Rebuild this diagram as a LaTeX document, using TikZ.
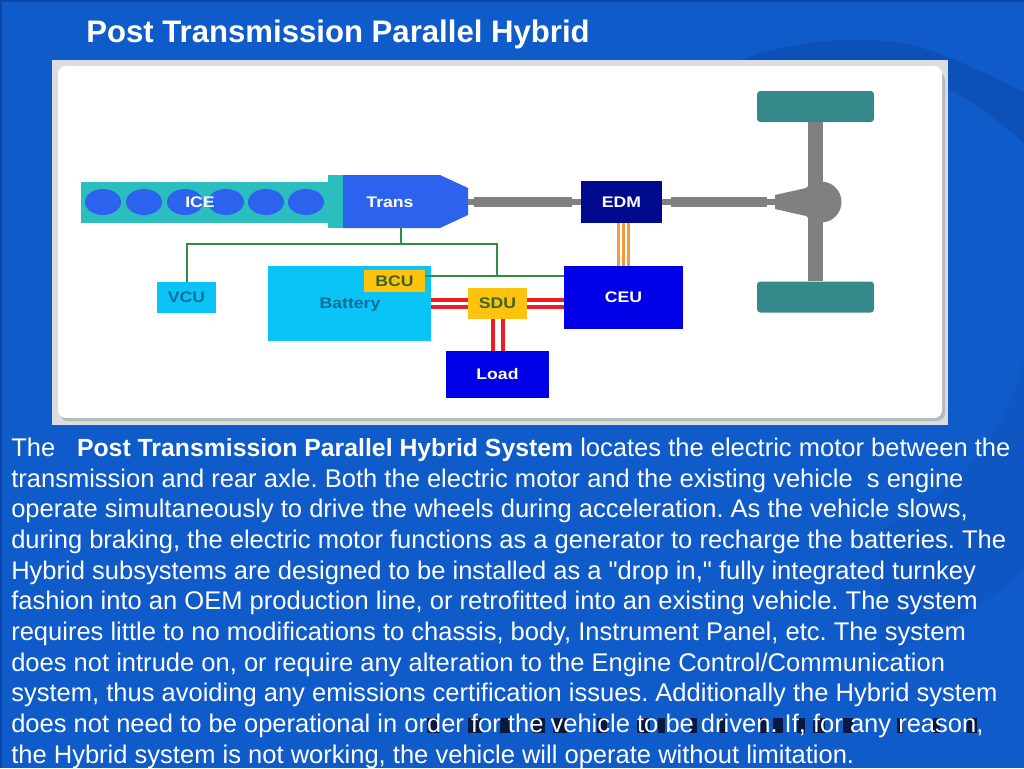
\documentclass[tikz,border=0pt]{standalone}
\usepackage{fontspec}
\newfontfamily\bodyfont{Liberation Sans}
\setmainfont{Liberation Sans}
\newfontfamily\lblfont[FakeStretch=1.15]{Liberation Sans}
\definecolor{bgblue}{HTML}{0F5BC9}
\definecolor{arcblue}{HTML}{0D51B8}
\definecolor{arcfaint}{HTML}{0E56C1}
\definecolor{edgeblue}{HTML}{0B47A8}
\definecolor{panelgrey}{HTML}{DADEE2}
\definecolor{shadowgrey}{HTML}{B2BAC0}
\definecolor{icecol}{HTML}{2CBDBE}
\definecolor{cylcol}{HTML}{2B62EE}
\definecolor{cyancol}{HTML}{0AC4F5}
\definecolor{yelcol}{HTML}{FFC30F}
\definecolor{ceucol}{HTML}{0000E6}
\definecolor{edmcol}{HTML}{000A8C}
\definecolor{shaftcol}{HTML}{808080}
\definecolor{wheelcol}{HTML}{36898A}
\definecolor{buscol}{HTML}{2F8F3F}
\definecolor{redcol}{HTML}{EE1C25}
\definecolor{orgcol}{HTML}{F39A3C}
\definecolor{tealtxt}{HTML}{0A6F9C}
\definecolor{olivetxt}{HTML}{3A6428}
\definecolor{inkdark}{HTML}{07193F}
\tikzset{
  x=0.75pt,y=-0.75pt,
  boxn/.style={draw=none,inner sep=0pt,font=\lblfont\bfseries\fontsize{11.5}{12}\selectfont},
  wtxt/.style={text=white},
  ttxt/.style={text=tealtxt},
  otxt/.style={text=olivetxt},
  cyl/.style={fill=cylcol,draw=none},
  bodytxt/.style={anchor=base west,inner sep=0pt,text=white,font=\bodyfont\frenchspacing\fontsize{19.15}{21}\selectfont},
  bus/.style={draw=buscol,line width=1.8pt},
  busthin/.style={draw=buscol,line width=1.2pt},
  shaftthin/.style={draw=shaftcol,line width=4.5pt},
  shaftthick/.style={draw=shaftcol,line width=7.5pt},
  redline/.style={draw=redcol,line width=2.6pt},
  orgline/.style={draw=orgcol,line width=2.4pt},
  inkbit/.style={fill=inkdark,draw=none},
}
\begin{document}
\begin{tikzpicture}
\useasboundingbox (0,0) rectangle (1024,768);
% background
\fill[bgblue] (0,0) rectangle (1024,768);
\fill[edgeblue] (0,0) rectangle (1024,1.5);
\fill[edgeblue] (0,0) rectangle (1.5,768);
\fill[arcblue] (740,60) .. controls (800,38) and (890,30) .. (947,57)
  .. controls (975,68) and (1000,80) .. (1024,93) -- (1024,143)
  .. controls (1000,122) and (975,103) .. (947,88) -- (947,60) -- cycle;
\fill[arcfaint] (1024,360) .. controls (1010,420) and (970,490) .. (880,530)
  -- (880,655) .. controls (950,630) and (1000,595) .. (1024,567) -- cycle;
% panel
\fill[panelgrey] (52,60) rectangle (948,425);
\fill[shadowgrey,rounded corners=6pt] (60,72) rectangle (945,421);
\fill[white,rounded corners=6pt] (58,66) rectangle (942,418);
% engine
\fill[icecol] (81,182) rectangle (329,223);
\fill[icecol] (328,175) rectangle (344,228);
\foreach \cx in {103,144,185,226,266,306}
  \fill[cyl] (\cx,202) ellipse [x radius=18,y radius=13];
\node[boxn,wtxt] (ice) at (200,202) {ICE};
% transmission
\fill[cylcol] (343,175) -- (440,175) -- (468,188) -- (468,215) -- (440,228) -- (343,228) -- cycle;
\node[boxn,wtxt] (trans) at (390,202) {Trans};
\coordinate (transtip) at (468,202);
\coordinate (transdrop) at (401,228);
\coordinate (busjoin) at (401,244);
% blocks
\node[boxn,wtxt,fill=edmcol,minimum width=60.75pt,minimum height=31.5pt] (edm) at (621.5,202) {EDM};
\node[boxn,wtxt,fill=ceucol,minimum width=89.25pt,minimum height=47.25pt] (ceu) at (623.5,297.5) {CEU};
\node[boxn,wtxt,fill=ceucol,minimum width=77.25pt,minimum height=35.25pt] (load) at (497.5,374.5) {Load};
\node[boxn,ttxt,fill=cyancol,minimum width=122.25pt,minimum height=56.25pt] (battery) at (349.5,303.5) {};
\node[boxn,ttxt] (batterytxt) at (350,304.5) {Battery};
\node[boxn,otxt,fill=yelcol,minimum width=45.75pt,minimum height=16.5pt] (bcu) at (394.5,281) {BCU};
\node[boxn,otxt,fill=yelcol,minimum width=44.25pt,minimum height=23.25pt] (sdu) at (497.5,303.5) {SDU};
\node[boxn,ttxt,fill=cyancol,minimum width=44.25pt,minimum height=23.25pt] (vcu) at (186.5,297.5) {VCU};
% rear axle
\node[fill=wheelcol,draw=none,rounded corners=2.5pt,minimum width=87.75pt,minimum height=23.25pt] (wheeltop) at (815.5,106.5) {};
\node[fill=wheelcol,draw=none,rounded corners=2.5pt,minimum width=87.75pt,minimum height=23.25pt] (wheelbot) at (815.5,297) {};
\node[circle,fill=shaftcol,draw=none,minimum size=30.75pt,inner sep=0pt] (diff) at (821,202) {};
\fill[shaftcol] (775,195) -- (806,188) -- (806,216) -- (775,209) -- cycle;
\draw[draw=shaftcol,line width=11pt] (wheeltop.south) -- (wheelbot.north);
% shafts
\draw[shaftthin] (transtip) -- (edm.west);
\draw[shaftthick] (474,202) -- (572,202);
\draw[shaftthin] (edm.east) -- (diff.west);
\draw[shaftthick] (671,202) -- (767,202);
% control bus
\draw[bus] (transdrop) -- (busjoin);
\draw[bus] (vcu.north -| 187,244) -- (187,244) -- (497,244) -- (497,276);
\draw[busthin] (bcu.east |- 0,276) -- (ceu.west |- 0,276);
% power lines
\draw[redline] (battery.east |- 0,300) -- (sdu.west |- 0,300);
\draw[redline] (battery.east |- 0,307) -- (sdu.west |- 0,307);
\draw[redline] (sdu.east |- 0,300) -- (ceu.west |- 0,300);
\draw[redline] (sdu.east |- 0,307) -- (ceu.west |- 0,307);
\draw[redline] (sdu.south -| 493,0) -- (load.north -| 493,0);
\draw[redline] (sdu.south -| 503,0) -- (load.north -| 503,0);
% motor cables
\draw[orgline] (edm.south -| 618.5,0) -- (ceu.north -| 618.5,0);
\draw[orgline] (edm.south -| 623.5,0) -- (ceu.north -| 623.5,0);
\draw[orgline] (edm.south -| 628.5,0) -- (ceu.north -| 628.5,0);
% title
\node[anchor=base west,inner sep=0pt,text=white,font=\bfseries\fontsize{23.35}{26}\selectfont] (title) at (86,42) {Post Transmission Parallel Hybrid};
% dark ghost marks behind the body text
\foreach \ax/\aw in {427/13,468/14,500/10,533/12,553/14,597/10,637/13,658/7,690/7,720/7,760/7,773/10,797/8,813/12,843/10,897/6,933/7,967/10}
  \fill[inkbit] (\ax,718) rectangle (\ax+\aw,733);
% body
\node[bodytxt] (l1) at (11,456.5) {The\hspace{11pt} {\fontsize{18.6}{21}\selectfont\bfseries Post Transmission Parallel Hybrid System} locates the electric motor between the};
\node[bodytxt] (l2) at (11,487.2) {transmission and rear axle. Both the electric motor and the existing vehicle\ \ s engine};
\node[bodytxt] (l3) at (11,517.9) {operate simultaneously to drive the wheels during acceleration. As the vehicle slows,};
\node[bodytxt] (l4) at (11,548.6) {during braking, the electric motor functions as a generator to recharge the batteries. The};
\node[bodytxt] (l5) at (11,579.2) {Hybrid subsystems are designed to be installed as a "drop in," fully integrated turnkey};
\node[bodytxt] (l6) at (11,609.9) {fashion into an OEM production line, or retrofitted into an existing vehicle. The system};
\node[bodytxt] (l7) at (11,640.6) {requires little to no modifications to chassis, body, Instrument Panel, etc. The system};
\node[bodytxt] (l8) at (11,671.2) {does not intrude on, or require any alteration to the Engine Control/Communication};
\node[bodytxt] (l9) at (11,701.8) {system, thus avoiding any emissions certification issues. Additionally the Hybrid system};
\node[bodytxt] (l10) at (11,732.4) {does not need to be operational in order for the vehicle to be driven. If, for any reason,};
\node[bodytxt] (l11) at (11,763) {the Hybrid system is not working, the vehicle will operate without limitation.};
\end{tikzpicture}
\end{document}
